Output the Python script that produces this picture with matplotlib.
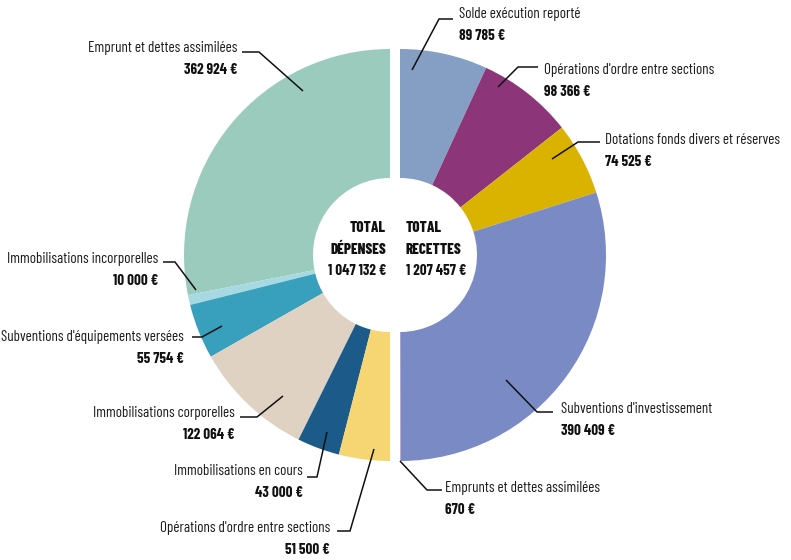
import matplotlib
matplotlib.use("Agg")
from matplotlib import pyplot as plt
from matplotlib.patches import Wedge

# Dépenses (left half), listed from the top going down
dep_labels = [
    "Emprunt et dettes assimilées",
    "Immobilisations incorporelles",
    "Subventions d'équipements versées",
    "Immobilisations corporelles",
    "Immobilisations en cours",
    "Opérations d'ordre entre sections",
]
dep_values = [362924, 10000, 55754, 122064, 43000, 51500]
dep_colors = ["#9bcbbd", "#a6d9e2", "#38a0bd", "#dfd2c2", "#1c5a89", "#f6d672"]

# Recettes (right half), listed from the top going down
rec_labels = [
    "Solde exécution reporté",
    "Opérations d'ordre entre sections",
    "Dotations fonds divers et réserves",
    "Subventions d'investissement",
    "Emprunts et dettes assimilées",
]
rec_values = [89785, 98366, 74525, 390409, 670]
rec_colors = ["#849fc3", "#8c3679", "#dab300", "#7a8ac5", "#c48dbe"]

total_dep = "1 047 132 €"
total_rec = "1 207 457 €"

W, H = 791, 560
FONT = ["Barlow Condensed", "DejaVu Sans"]
FS = 10.8

# label layout in pixel coords (y down): text anchor, leader polyline
dep_layout = [
    ((237, 48), [(242, 52), (259, 52), (303, 91)]),
    ((158, 259), [(163, 262), (175, 262), (196, 290)]),
    ((184, 337), [(192, 337), (202, 337), (222, 326)]),
    ((235, 413), [(240, 417), (257, 417), (283, 396)]),
    ((303, 471), [(307, 477), (317, 477), (327, 432)]),
    ((330, 528), [(337, 531), (350, 531), (374, 449)]),
]
rec_layout = [
    ((459, 14), [(453, 19), (439, 19), (412, 70)]),
    ((544, 70), [(538, 67), (518, 67), (498, 87)]),
    ((605, 140), [(600, 142), (578, 142), (552, 159)]),
    ((561, 409), [(553, 412), (537, 412), (506, 380)]),
    ((445, 488), [(442, 490), (427, 490), (400, 461)]),
]

fmt = lambda v: f"{v:,}".replace(",", " ") + " €"


def half_donut(ax, cx, cy, values, colors, left):
    total = sum(values)
    r_out, r_in = 206, 77
    a = 90.0
    for v, c in zip(values, colors):
        span = 180.0 * v / total
        if left:
            ax.add_patch(Wedge((cx, cy), r_out, a, a + span, width=r_out - r_in,
                               fc=c, ec="none"))
            a += span
        else:
            ax.add_patch(Wedge((cx, cy), r_out, a - span, a, width=r_out - r_in,
                               fc=c, ec="none"))
            a -= span


def put_labels(ax, labels, values, layout, ha):
    for name, v, ((tx, ty), pts) in zip(labels, values, layout):
        xs = [p[0] for p in pts]
        ys = [H - p[1] for p in pts]
        ax.plot(xs, ys, color="#111", lw=1.1, solid_capstyle="butt")
        ax.text(tx, H - ty, name, ha=ha, va="center", fontsize=FS,
                color="#1a1a1a", family=FONT, fontweight=400)
        ax.text(tx, H - ty - 22, fmt(v), ha=ha, va="center", fontsize=FS,
                color="#111", family=FONT, fontweight=700)


fig = plt.figure(figsize=(W / 100, H / 100), dpi=100)
ax = fig.add_axes([0, 0, 1, 1])
ax.set_xlim(0, W)
ax.set_ylim(0, H)
ax.axis("off")

cy = H - 255
half_donut(ax, 390, cy, dep_values, dep_colors, left=True)
half_donut(ax, 400, cy, rec_values, rec_colors, left=False)

put_labels(ax, dep_labels, dep_values, dep_layout, "right")
put_labels(ax, rec_labels, rec_values, rec_layout, "left")

for x, ha, lines in [(386, "right", ["TOTAL", "DÉPENSES", total_dep]),
                     (406, "left", ["TOTAL", "RECETTES", total_rec])]:
    for i, t in enumerate(lines):
        ax.text(x, H - (228 + 21.5 * i), t, ha=ha, va="center", fontsize=FS,
                color="#111", family=FONT, fontweight=800 if i < 2 else 700)

fig.savefig("out.png", dpi=100)
